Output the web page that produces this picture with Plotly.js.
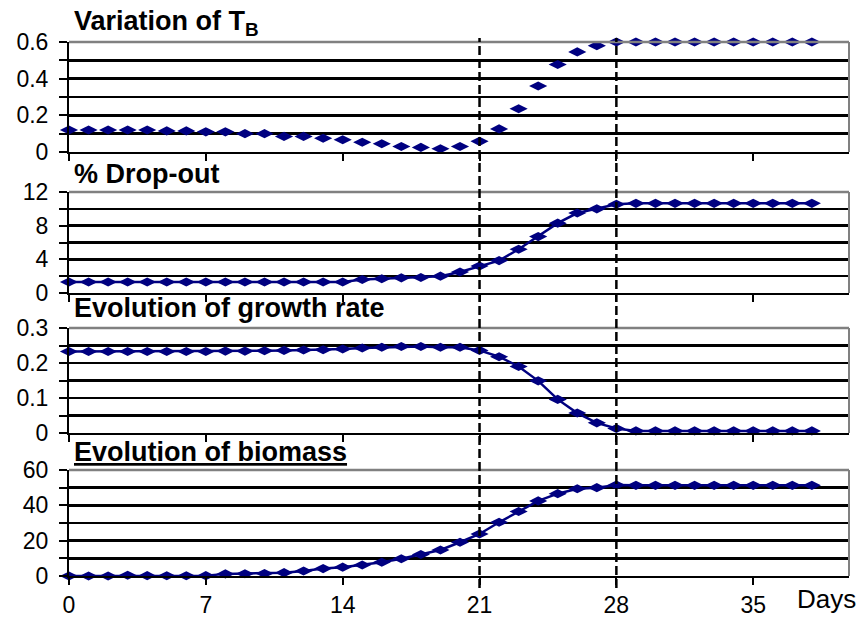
<!DOCTYPE html>
<html>
<head>
<meta charset="utf-8">
<script src="https://cdn.plot.ly/plotly-3.0.1.min.js"></script>
<style>
html,body{margin:0;padding:0;background:#ffffff;}
#chart{width:858px;height:619px;}
</style>
</head>
<body>
<div id="chart"></div>
<script>
// ---- data ----
const days = [0,1,2,3,4,5,6,7,8,9,10,11,12,13,14,15,16,17,18,19,20,21,22,23,24,25,26,27,28,29,30,31,32,33,34,35,36,37,38];
const tbValues = [0.12,0.12,0.12,0.12,0.12,0.115,0.115,0.11,0.11,0.10,0.10,0.085,0.085,0.075,0.067,0.053,0.045,0.03,0.025,0.018,0.03,0.058,0.126,0.236,0.36,0.477,0.546,0.58,0.60,0.60,0.60,0.60,0.60,0.60,0.60,0.60,0.60,0.60,0.60];
const dropoutValues = [1.3,1.3,1.3,1.3,1.3,1.3,1.3,1.3,1.3,1.3,1.3,1.3,1.3,1.3,1.3,1.6,1.7,1.8,1.85,2.0,2.5,3.2,3.85,5.2,6.7,8.3,9.5,10.0,10.55,10.65,10.65,10.65,10.65,10.65,10.65,10.65,10.65,10.65,10.65];
const growthValues = [0.233,0.233,0.233,0.233,0.233,0.233,0.233,0.233,0.234,0.234,0.235,0.236,0.237,0.238,0.24,0.243,0.245,0.247,0.247,0.245,0.245,0.236,0.218,0.19,0.149,0.096,0.057,0.029,0.013,0.006,0.006,0.006,0.006,0.006,0.006,0.006,0.006,0.006,0.006];
const biomassValues = [0,0,0,0.4,0.2,0.1,0.1,0.2,1.2,1.3,1.4,1.9,2.8,4.2,5.0,6.2,7.8,9.8,12.2,14.7,19.1,23.8,30.4,36.5,42.5,46.6,49.4,50.0,51.5,51.3,51.3,51.3,51.3,51.3,51.3,51.3,51.3,51.3,51.3];

const xTickVals = [0,7,14,21,28,35];
const xTickText = ['0','7','14','21','28','35'];
const markDays = [21,28];
const xLabel = 'Days';

const panelTitles = ['Variation of T<sub>B</sub>','% Drop-out','Evolution of growth rate','<u>Evolution of biomass</u>'];

const tbTicks = [0,0.1,0.2,0.3,0.4,0.5,0.6];
const tbTickText = ['0',' ','0.2',' ','0.4',' ','0.6'];
const dropTicks = [0,2,4,6,8,10,12];
const dropTickText = ['0',' ','4',' ','8',' ','12'];
const growthTicks = [0,0.05,0.1,0.15,0.2,0.25,0.3];
const growthTickText = ['0',' ','0.1',' ','0.2',' ','0.3'];
const bioTicks = [0,10,20,30,40,50,60];
const bioTickText = ['0',' ','20',' ','40',' ','60'];

// ---- layout ----
const W = 858, H = 619;
const M = {l:69, r:9, t:42, b:43};
const plotH = H - M.t - M.b;
function py(pixelY){ return (H - M.b - pixelY) / plotH; }

const panels = [
  {vals: tbValues, ticks: tbTicks, text: tbTickText, range:[0,0.6], top:42, bottom:152, mode:'markers', titleY:23},
  {vals: dropoutValues, ticks: dropTicks, text: dropTickText, range:[0,12], top:192, bottom:293, mode:'lines+markers', titleY:174},
  {vals: growthValues, ticks: growthTicks, text: growthTickText, range:[0,0.3], top:328, bottom:433, mode:'lines+markers', titleY:308},
  {vals: biomassValues, ticks: bioTicks, text: bioTickText, range:[0,60], top:470, bottom:576, mode:'lines+markers', titleY:452}
];

const NAVY = '#000080';
const FONT = 'Liberation Sans, Arial, sans-serif';
const traces = [];
const layout = {
  width: W, height: H,
  margin: M,
  paper_bgcolor: '#ffffff',
  plot_bgcolor: '#ffffff',
  showlegend: false,
  font: {family: FONT, color: '#000000', size: 23},
  shapes: [],
  annotations: []
};

panels.forEach((p, i) => {
  const n = i + 1;
  const xa = 'xaxis' + (n === 1 ? '' : n);
  const ya = 'yaxis' + (n === 1 ? '' : n);
  const xr = 'x' + (n === 1 ? '' : n);
  const yr = 'y' + (n === 1 ? '' : n);
  // gray top and right frame
  layout.shapes.push({type:'line', xref: xr + ' domain', yref: yr + ' domain', x0:0, x1:1, y0:1, y1:1,
    line:{color:'#808080', width:2.5}, layer:'above'});
  layout.shapes.push({type:'line', xref: xr + ' domain', yref: yr + ' domain', x0:1, x1:1, y0:0, y1:1,
    line:{color:'#808080', width:2}, layer:'above'});
  traces.push({
    x: days, y: p.vals, xaxis: xr, yaxis: yr,
    type: 'scatter', mode: p.mode, cliponaxis: false,
    line: {color: NAVY, width: 2.5},
    marker: {symbol: 'diamond-wide', size: 13, color: NAVY},
    hoverinfo: 'skip'
  });
  layout[xa] = {
    domain: [0,1], anchor: yr, range: [0,39.9],
    showgrid: false, zeroline: false,
    showline: true, linecolor: '#000000', linewidth: 2,
    ticks: 'outside', ticklen: 7, tickwidth: 2, tickcolor: '#000000',
    tickmode: 'array', tickvals: xTickVals, ticktext: xTickText,
    showticklabels: n === 4,
    tickfont: {size: 23, family: FONT, color: '#000000'},
    fixedrange: true
  };
  layout[ya] = {
    domain: [py(p.bottom), py(p.top)], anchor: xr, range: p.range,
    showgrid: true, gridcolor: '#000000', gridwidth: 2.5,
    zeroline: false,
    showline: true, linecolor: '#000000', linewidth: 2,
    ticks: 'outside', ticklen: 8, tickwidth: 2, tickcolor: '#000000',
    tickmode: 'array', tickvals: p.ticks, ticktext: p.text,
    tickfont: {size: 23, family: FONT, color: '#000000'},
    ticklabelstandoff: 6,
    fixedrange: true
  };
  layout.annotations.push({
    text: '<b>' + panelTitles[i] + '</b>', xref:'paper', yref:'paper',
    x: 0.004, y: py(p.titleY), xanchor:'left', yanchor:'middle', showarrow:false,
    font:{size: 27, family: FONT, color:'#000000'}
  });
});

markDays.forEach(d => {
  layout.shapes.push({type:'line', xref:'x', yref:'paper', x0:d, x1:d, y0:py(588), y1:py(38),
    line:{color:'#000000', width:2.5, dash:'9px,4px'}, layer:'above'});
});

layout.annotations.push({
  text: xLabel, xref:'paper', yref:'paper', x: (826 - M.l) / (W - M.l - M.r), y: py(599),
  xanchor:'center', yanchor:'middle', showarrow:false,
  font:{size: 26, family: FONT, color:'#000000'}
});

Plotly.newPlot('chart', traces, layout, {displayModeBar:false, staticPlot:true});
</script>
</body>
</html>
